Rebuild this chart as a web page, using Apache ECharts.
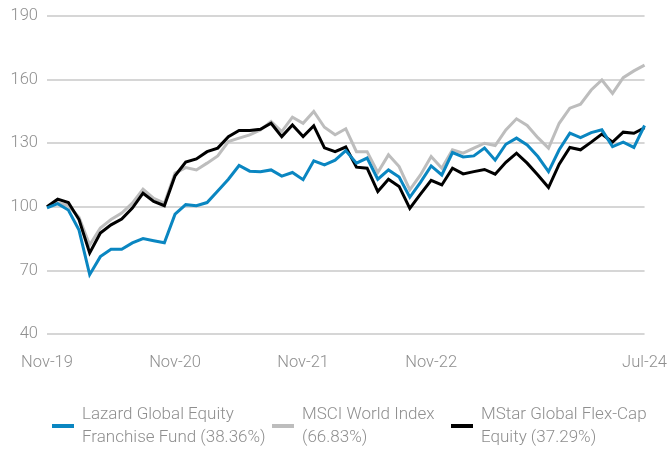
<!DOCTYPE html>
<html>
<head>
<meta charset="utf-8">
<script src="https://cdn.jsdelivr.net/npm/echarts@6/dist/echarts.min.js"></script>
<style>
  html, body { margin: 0; padding: 0; background: #fff; }
  .chart { width: 670px; height: 450px; }
</style>
</head>
<body>
<div class="chart"></div>
<script>
var months = [
    'Nov-19', 'Dec-19', 'Jan-20', 'Feb-20', 'Mar-20', 'Apr-20', 'May-20', 'Jun-20', 'Jul-20', 'Aug-20', 'Sep-20', 'Oct-20',
    'Nov-20', 'Dec-20', 'Jan-21', 'Feb-21', 'Mar-21', 'Apr-21', 'May-21', 'Jun-21', 'Jul-21', 'Aug-21', 'Sep-21', 'Oct-21',
    'Nov-21', 'Dec-21', 'Jan-22', 'Feb-22', 'Mar-22', 'Apr-22', 'May-22', 'Jun-22', 'Jul-22', 'Aug-22', 'Sep-22', 'Oct-22',
    'Nov-22', 'Dec-22', 'Jan-23', 'Feb-23', 'Mar-23', 'Apr-23', 'May-23', 'Jun-23', 'Jul-23', 'Aug-23', 'Sep-23', 'Oct-23',
    'Nov-23', 'Dec-23', 'Jan-24', 'Feb-24', 'Mar-24', 'Apr-24', 'May-24', 'Jun-24', 'Jul-24'
];
var shownLabels = ['Nov-19', 'Nov-20', 'Nov-21', 'Nov-22', 'Jul-24'];

var lazardName = 'Lazard Global Equity\nFranchise Fund (38.36%)';
var msciName = 'MSCI World Index\n(66.83%)';
var mstarName = 'MStar Global Flex-Cap\nEquity (37.29%)';

var lazard = [
    99.5, 101.5, 98.5, 89, 68, 76.5, 80, 80, 83, 85, 84, 83,
    96.5, 101, 100.5, 102, 107.5, 113, 119.5, 116.8, 116.5, 117.4, 114.5, 116.2,
    112.8, 121.7, 119.8, 122, 126.5, 120.6, 123, 113, 117.4, 114, 104.5, 111.5,
    119.3, 115, 125.6, 123.5, 124, 127.7, 122, 129.5, 132.4, 129.2, 123.7, 116.6,
    126.9, 134.7, 132.6, 135, 136.3, 128.4, 130.5, 128, 138.36
];
var msci = [
    100, 102, 100.5, 95, 82, 90, 94, 97, 101.7, 108.3, 104, 101.7,
    115.9, 118.5, 117.4, 120.6, 124, 130.8, 132.4, 133.9, 136.3, 140.2, 135.5, 142.3,
    139.4, 145, 137.5, 134, 136.8, 126, 126, 116.2, 124.5, 119, 108, 115,
    123.7, 118.2, 126.9, 125.3, 127.7, 130, 128.9, 136.3, 141.5, 138.4, 132.6, 127.7,
    139.4, 146.5, 148.4, 155.1, 159.8, 153.5, 160.9, 164.1, 166.83
];
var mstar = [
    100, 103.6, 102, 94, 78.2, 87.6, 91.5, 94.2, 99.4, 106.4, 102.5, 100.5,
    114.6, 121.1, 122.6, 126, 127.7, 133.1, 136, 136, 136.6, 139.4, 133.1, 138.6,
    133.1, 138.2, 127.8, 126, 128.2, 118.7, 118.2, 107.2, 113, 109.6, 99.3, 106,
    112.5, 110.3, 118.2, 115.5, 116.6, 117.6, 115.4, 121, 125.3, 120.6, 115, 109.1,
    120.1, 128, 126.9, 130.5, 134.3, 130.5, 135.2, 134.7, 137.29
];

var textFont = 'Roboto, "Noto Sans", sans-serif';
var textColor = '#8f8f8f';

function legendAt(name, left) {
    return {
        data: [name],
        left: left,
        top: 403,
        padding: 0,
        orient: 'horizontal',
        icon: 'rect',
        itemWidth: 22,
        itemHeight: 4,
        selectedMode: false,
        textStyle: {
            color: textColor,
            fontFamily: textFont,
            fontWeight: 300,
            fontSize: 17,
            lineHeight: 23,
            padding: [0, 0, 0, 3]
        }
    };
}

function lineSeries(name, data, color, z) {
    return {
        name: name,
        type: 'line',
        data: data,
        z: z,
        showSymbol: false,
        symbol: 'none',
        animation: false,
        color: color,
        lineStyle: { color: color, width: 3, join: 'miter' },
        itemStyle: { color: color }
    };
}

var myChart = echarts.init(document.querySelector('.chart'));
var option = {
    backgroundColor: '#fff',
    animation: false,
    grid: { left: 47, right: 23, top: 16, bottom: 116 },
    legend: [
        legendAt(lazardName, 52),
        legendAt(msciName, 272),
        legendAt(mstarName, 451)
    ],
    xAxis: {
        type: 'category',
        data: months,
        boundaryGap: false,
        axisLine: { show: false },
        axisTick: { show: false },
        axisLabel: {
            color: textColor,
            fontFamily: textFont,
            fontWeight: 300,
            fontSize: 16.5,
            margin: 20,
            interval: function (index, value) {
                return shownLabels.indexOf(value) >= 0;
            }
        }
    },
    yAxis: {
        type: 'value',
        min: 40,
        max: 190,
        interval: 30,
        axisLine: { show: false },
        axisTick: { show: false },
        axisLabel: {
            color: textColor,
            fontFamily: textFont,
            fontWeight: 300,
            fontSize: 16.5,
            margin: 9
        },
        splitLine: { lineStyle: { color: '#d6d6d6', width: 2 } }
    },
    series: [
        lineSeries(msciName, msci, '#bdbdbd', 2),
        lineSeries(mstarName, mstar, '#000000', 3),
        lineSeries(lazardName, lazard, '#0a86c1', 4)
    ]
};
myChart.setOption(option);
window.addEventListener('resize', function () {
    myChart.resize();
});
</script>
</body>
</html>
